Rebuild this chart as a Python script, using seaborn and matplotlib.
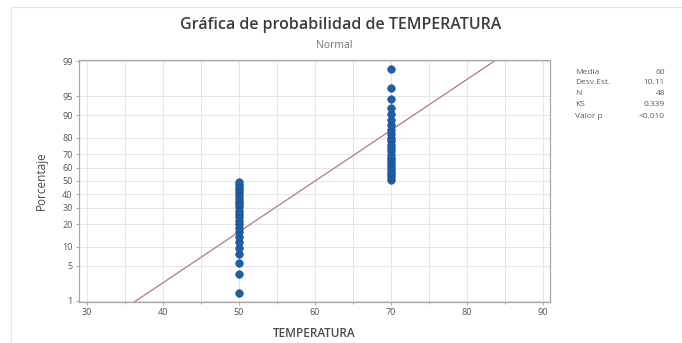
import matplotlib
matplotlib.use("Agg")
import matplotlib.pyplot as plt
import seaborn as sns
import pandas as pd
from statistics import NormalDist
from matplotlib.patches import Rectangle

# Observed temperatures (two levels) and their counts
niveles_temperatura = [50, 70]
conteos = [24, 24]

# Summary statistics shown in the side table
media = 60
desv_est = 10.11
n_total = 48
ks = "0.339"
valor_p = "<0.010"

# Probability-axis tick labels (percent)
porcentajes_ticks = [1, 5, 10, 20, 30, 40, 50, 60, 70, 80, 90, 95, 99]
x_ticks = [30, 40, 50, 60, 70, 80, 90]

nd = NormalDist()

# Build sorted sample and Benard median ranks for the probability plot
valores = []
for v, c in zip(niveles_temperatura, conteos):
    valores += [v] * c
valores.sort()
n = len(valores)
pct = [(i - 0.3) / (n + 0.4) for i in range(1, n + 1)]
df = pd.DataFrame({"TEMPERATURA": valores, "z": [nd.inv_cdf(p) for p in pct]})

sns.set_theme(style="white")
plt.rcParams["font.family"] = ["Open Sans", "DejaVu Sans"]

fig = plt.figure(figsize=(6.82, 3.43), dpi=100)
ax = fig.add_axes([79 / 682, 1 - 302 / 343, 471 / 682, 242 / 343])

zlo, zhi = nd.inv_cdf(0.0093), nd.inv_cdf(0.9907)
xlo, xhi = 28.95, 90.9

# gridlines
for gx in range(30, 91, 5):
    ax.axvline(gx, color="#e6e6e6", lw=0.7, zorder=0)
for p in porcentajes_ticks:
    ax.axhline(nd.inv_cdf(p / 100), color="#e6e6e6", lw=0.7, zorder=0)

# fitted normal line across the full probability range
linea = pd.DataFrame({
    "x": [media + desv_est * zlo, media + desv_est * zhi],
    "z": [zlo, zhi],
})
sns.lineplot(data=linea, x="x", y="z", ax=ax, color="#bd767a", lw=0.9, zorder=2)

sns.scatterplot(data=df, x="TEMPERATURA", y="z", ax=ax, color="#1f5ea8",
                edgecolor="#1a4c8a", linewidth=0.4, s=30, zorder=3)

ax.set_xlim(xlo, xhi)
ax.set_ylim(zlo, zhi)
ax.set_xticks(x_ticks)
ax.set_xticklabels([str(t) for t in x_ticks])
ax.set_xticks(list(range(35, 90, 10)), minor=True)
ax.set_yticks([nd.inv_cdf(p / 100) for p in porcentajes_ticks])
ax.set_yticklabels([str(p) for p in porcentajes_ticks])
ax.tick_params(axis="both", which="both", direction="out", length=2.5, width=0.6,
               colors="#9a9a9a", labelcolor="#555555", labelsize=6.5, pad=2,
               bottom=True, left=True)
ax.tick_params(axis="x", which="minor", length=1.5)
for s in ax.spines.values():
    s.set_color("#a8a8a8")
    s.set_linewidth(0.9)

ax.set_xlabel("TEMPERATURA", fontsize=8.5, color="#4a4a4a", labelpad=7,
              fontweight="semibold")
ax.set_ylabel("Porcentaje", fontsize=8.5, color="#4a4a4a", labelpad=10)

fig.text(0.5, 0.928, "Gráfica de probabilidad de TEMPERATURA", ha="center",
         va="center", fontsize=11.5, color="#3c3c3c", fontweight="semibold")
fig.text(0.49, 0.868, "Normal", ha="center", va="center", fontsize=7.5,
         color="#777777")

# statistics table
filas = [("Media", str(media)), ("Desv.Est.", f"{desv_est:.2f}"),
         ("N", str(n_total)), ("KS", ks), ("Valor p", valor_p)]
y0 = 72
for i, (lab, val) in enumerate(filas):
    yy = 1 - (y0 + 11 * i) / 343
    fig.text(575 / 682, yy, lab, ha="left", va="center", fontsize=6, color="#5e5e5e")
    fig.text(665 / 682, yy, val, ha="right", va="center", fontsize=6, color="#5e5e5e")

# outer graph frame
fig.add_artist(Rectangle((11 / 682, -0.05), 1.0, 1 - 7 / 343 + 0.05,
                         transform=fig.transFigure, fill=False,
                         edgecolor="#e2e2e2", lw=0.8))

fig.savefig("out.png", dpi=100)
